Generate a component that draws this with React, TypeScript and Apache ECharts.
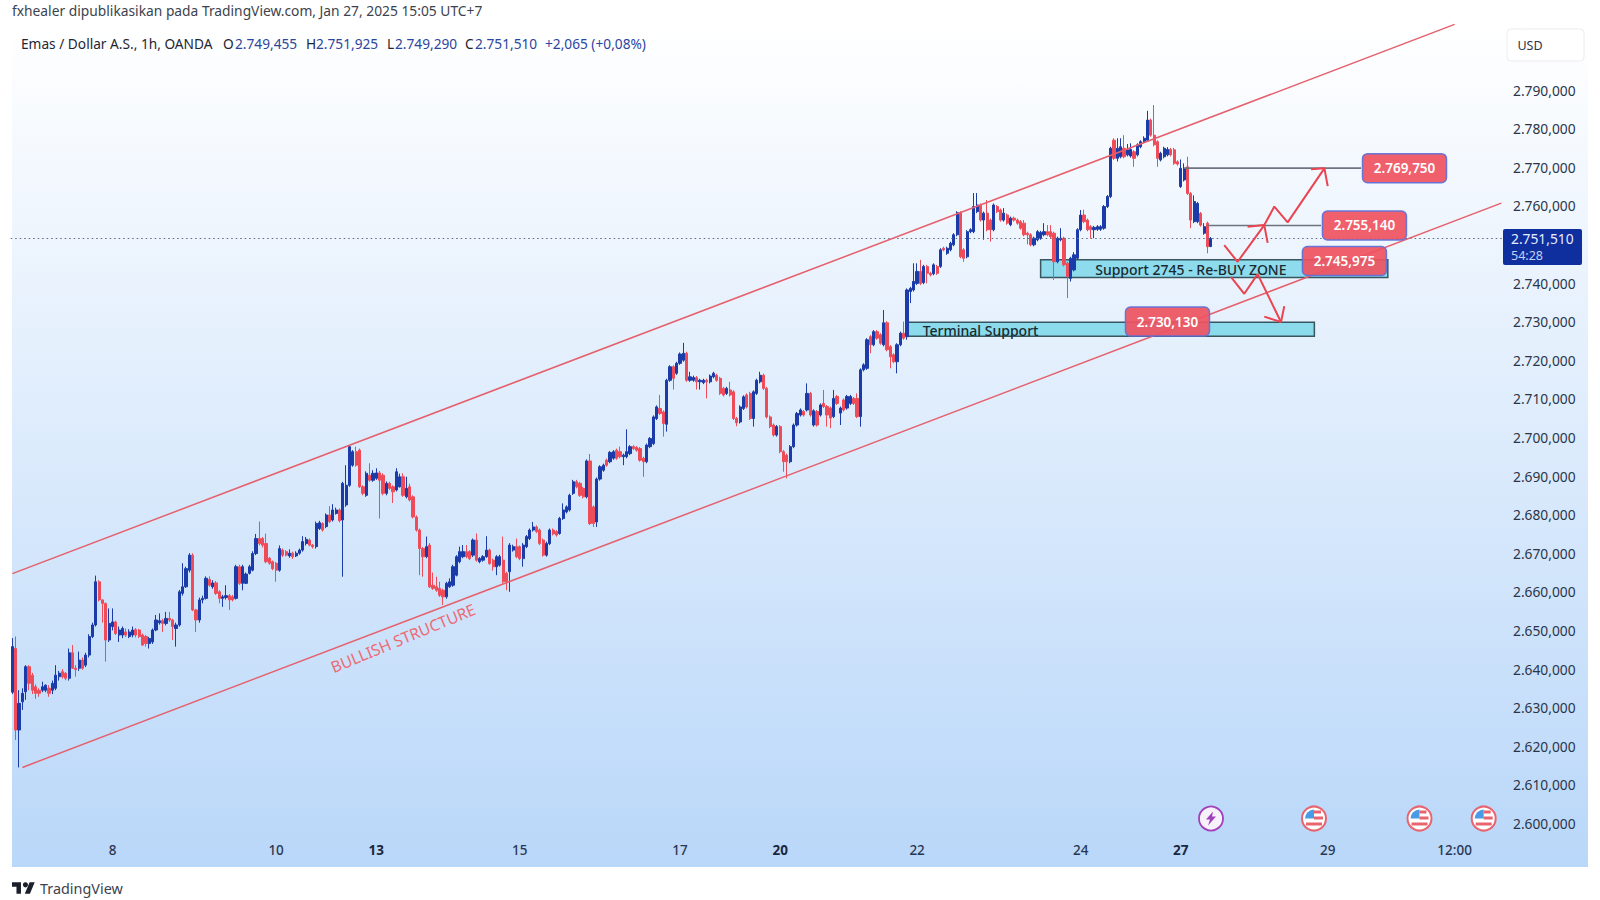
import React, { useEffect, useRef } from "react";
import * as echarts from "echarts";

// Candles: [open, close, low, high]
const candlesJan7to13 = [
[2634,2645.8,2633.5,2648],[2645.3,2624.2,2621.6,2648.4],[2624.2,2631.1,2614.5,2634.5],[2631.5,2633.7,2629.4,2635],[2634.1,2640.6,2632,2641],[2640.6,2636.3,2634.5,2641],[2638.4,2634.5,2633.5,2639],[2635.4,2633.7,2632.3,2636],[2634.5,2633.7,2632.8,2635],[2634.5,2635.4,2634,2636.7],
[2634.5,2635.8,2634,2636],[2635,2633.7,2632.8,2635.8],[2634.5,2636.3,2633.5,2637],[2635,2638.4,2634.5,2641],[2638,2638.9,2637,2639.5],[2639.3,2638,2637.5,2640],[2638.9,2637.6,2637.1,2639.2],[2637.6,2644.2,2637,2645.3],[2644.2,2640.2,2640,2646.2],[2640.2,2639.9,2638,2641],
[2640.2,2642.3,2639.5,2644.5],[2642.3,2640.2,2639.8,2643],[2641,2643.6,2640.5,2644.2],[2643.6,2648.4,2643,2649],[2648.4,2651.4,2648,2652],[2651.4,2662.6,2651,2664.2],[2662.6,2657.9,2657.5,2663],[2657.9,2657,2652,2658],[2657,2647.5,2641.9,2657.2],[2647.5,2651.8,2647,2655.7],
[2651,2652.2,2650,2655.7],[2652.2,2649.2,2648.8,2652.5],[2648.8,2650.1,2647,2651],[2648.8,2650.5,2648,2651],[2649.6,2648.8,2648.3,2650.5],[2648.4,2649.6,2648,2650.3],[2648.8,2650.1,2648.2,2651],[2650.2,2648.8,2648.2,2650.6],[2650.1,2648.4,2648,2650.4],[2648.8,2646.2,2646,2649.2],
[2648.4,2646.6,2645.8,2648.8],[2646.6,2647.9,2645.3,2648.3],[2647,2650.1,2646.5,2650.5],[2650.1,2652.7,2649.8,2654],[2652,2652.5,2651.5,2654.4],[2652.5,2651.8,2649.6,2653],[2651.8,2653.1,2651.3,2654.8],[2653.1,2652.7,2652.2,2654.8],[2652.7,2651,2647.5,2653],[2650.5,2651.4,2645.8,2652],
[2651.4,2660,2651,2660.5],[2659.6,2661.3,2659,2667.4],[2661.3,2666,2661,2666.5],[2665.6,2669.5,2665,2670],[2669.5,2655.3,2655,2670],[2655.3,2652.7,2649.6,2655.6],[2652.7,2657.9,2652,2658.5],[2657.9,2658.3,2657,2659],[2658.3,2663.5,2658,2664],[2663.2,2661.7,2661.3,2664],
[2661.3,2662.3,2660.8,2663],[2662.3,2659.6,2659.2,2662.8],[2660,2658.3,2657,2660.4],[2658.3,2658.7,2656.1,2659.2],[2658.5,2659,2658,2661.7],[2659,2657.9,2655.3,2659.4],[2658.7,2657.9,2657.5,2659.2],[2658.3,2666.5,2658,2667],[2666.5,2662.2,2661.8,2667],[2662.2,2666.5,2660.4,2667],
[2662.2,2664.6,2662,2665],[2664.8,2666.5,2664.5,2667],[2665.6,2669.9,2665.3,2670.5],[2669.9,2673.8,2669.5,2675],[2673.8,2672.5,2672,2678.2],[2673.8,2672.1,2671.5,2674.2],[2672.5,2667.8,2667.4,2675.1],[2668.7,2667.4,2667,2669],[2667.8,2666,2665.6,2668.1],[2667.4,2665.6,2662.6,2667.7],
[2665.6,2671.2,2665.2,2672],[2670.8,2669.5,2669,2671.2],[2670.4,2669.5,2669.2,2670.8],[2669.3,2670,2668.8,2671],[2670,2669.1,2668.5,2670.4],[2669.3,2670,2669,2670.5],[2670,2670.8,2669.6,2671.2],[2670.8,2673,2670.4,2674.4],[2672.5,2673.6,2672,2674.2],[2673.4,2672.1,2671.8,2673.8],
[2672.1,2671.7,2671.2,2672.4],[2671.7,2677.7,2671.2,2678.2],[2676.4,2677.9,2676,2678.4],[2677.7,2676,2675.6,2678],[2676.9,2679.9,2676.5,2680.3],[2679.9,2678.2,2677.8,2682.2],[2678.6,2681.2,2678.2,2682.7],[2680.3,2681.2,2680,2681.8],[2681.2,2678.4,2678,2681.6],[2678.6,2688.1,2663.9,2688.5],
[2682.5,2687.6,2682,2692.8],[2687.6,2697.6,2687.2,2697.8],[2692.8,2696.3,2692.4,2696.7],[2696.3,2692.8,2692.4,2697.6],[2696.7,2687.2,2686.9,2697.1],[2687.2,2685.5,2685,2687.6],[2685,2690.7,2684.6,2691.2],[2690.2,2688.9,2688.5,2693.3],[2688.9,2690.7,2688.5,2691.5],[2689.4,2690.8,2689,2692],
[2690.8,2688.9,2679,2691.3],[2690.2,2685.5,2685,2690.7],[2685.5,2688.1,2685,2688.6],[2688.1,2686.8,2686.4,2688.5],[2687.2,2685.9,2683,2687.6],[2686.4,2691.1,2686,2692],
];
const candlesJan13to20 = [
[2687.2,2689.8,2687,2690.6],[2689.8,2685,2684.6,2690.7],[2684.6,2686.8,2684.2,2689.8],[2687.2,2683.8,2683.4,2688],[2684.6,2679.4,2679,2685],[2679.4,2676,2675.6,2679.8],[2676,2671.2,2664.3,2676.4],[2671.2,2669.1,2663.9,2671.6],[2669.1,2671.7,2668.7,2674.3],[2672.1,2661.3,2661,2672.6],
[2661.7,2660.9,2660.5,2665],[2661.3,2660.4,2660,2663.9],[2660.9,2659.1,2658.7,2662.6],[2660.4,2658.7,2656.6,2660.8],[2658.7,2662.2,2658.2,2662.6],[2661.3,2662.6,2661,2663.5],[2661.7,2666.5,2661.3,2667],[2664.3,2669.1,2664,2669.5],[2667.8,2670.4,2667.4,2671.7],[2669.1,2670.4,2668.7,2672.1],
[2670.4,2669.1,2668.7,2672.1],[2670.4,2668.6,2668.2,2670.8],[2669.5,2673.4,2669,2673.8],[2673.4,2668.2,2667.8,2675.1],[2667.8,2668.6,2667.4,2669],[2668.2,2669.1,2667.8,2669.5],[2669.1,2670.8,2668.8,2674.4],[2670.8,2667.3,2667,2671.2],[2668.2,2666.5,2665.5,2668.6],[2666.5,2669.1,2664.3,2669.5],
[2666.9,2669.1,2666.5,2669.6],[2668.2,2662.6,2662.2,2674.3],[2664.8,2662.6,2660.4,2665.2],[2665.2,2672.1,2660,2672.6],[2670.8,2671.7,2670.4,2672.2],[2671.7,2669.1,2668.7,2673.8],[2671.7,2668.6,2668.2,2672],[2668.6,2672.1,2666.5,2672.6],[2671.7,2674.3,2671.3,2674.7],[2673.8,2676,2673.4,2676.4],
[2676,2676.8,2675.6,2678.1],[2676.8,2675.6,2675.2,2677.2],[2676,2672.5,2672.1,2676.4],[2673.4,2669.5,2669.1,2673.8],[2669.5,2672.5,2669.1,2673],[2672.5,2676,2672.1,2676.4],[2676,2675,2674.6,2676.4],[2675.6,2674.7,2674.3,2676],[2675.1,2679,2674.8,2679.4],[2679,2681.2,2678.6,2682.9],
[2680.7,2682,2680.3,2682.4],[2681.2,2685,2680.8,2685.4],[2685.5,2688.5,2685.1,2689],[2688.5,2687.2,2686.8,2689],[2688.1,2685,2684.6,2688.5],[2686.8,2684.6,2684.2,2687.2],[2684.6,2693.9,2684.2,2694.3],[2693.9,2677.7,2677.3,2695.7],[2682,2677.7,2676.8,2682.4],[2678.1,2689.2,2676.8,2689.6],
[2689.2,2692.4,2688.8,2692.8],[2691.5,2692.8,2691.1,2693.2],[2694.1,2692.8,2692.4,2694.5],[2693.7,2696.1,2693.3,2696.5],[2694.6,2696.3,2694.2,2696.7],[2696.7,2694.6,2694.2,2697.1],[2696.3,2695,2694.6,2697.6],[2695,2695.4,2692.8,2695.8],[2695,2696.3,2694.6,2702.1],[2695.8,2697.6,2695.4,2698],
[2697.6,2697.1,2696.7,2698],[2697.4,2696.7,2696.3,2697.8],[2697.1,2694.1,2693.7,2697.5],[2694.6,2693.7,2689.8,2695],[2693.7,2698,2693.3,2698.4],[2697.6,2699.7,2697.2,2700.1],[2698.4,2705.3,2698,2705.7],[2704.9,2707.9,2704.5,2708.3],[2707.5,2706.2,2705.8,2711],[2706.6,2703.6,2700.2,2707],
[2703.4,2714.8,2701.5,2715.2],[2714.8,2718.3,2714.4,2718.7],[2718.3,2715.3,2712.4,2718.7],[2716.6,2719.2,2716.2,2719.6],[2719.2,2721.6,2718.8,2722],[2720,2721.8,2719.6,2724.5],[2721.8,2714.8,2714.4,2722.2],[2714.8,2715.7,2714.4,2717],[2714.8,2715.5,2714.4,2716],[2715.5,2714.4,2712.4,2715.9],
[2714.4,2714.8,2712.4,2715.2],[2714.2,2714.8,2713.8,2715.2],[2714.8,2714.4,2710.1,2715.2],[2714.4,2715.9,2714,2716.3],[2715.7,2716.6,2715.3,2717],[2716.1,2714.8,2714.4,2716.5],[2715.3,2711.4,2711,2715.7],[2712.7,2711,2710.6,2713.1],[2711.4,2712.7,2711,2713.1],[2712.3,2711,2710.6,2714.4],
[2711.8,2704.9,2704.5,2712.2],[2704.9,2703.8,2702.9,2705.3],[2704,2707.9,2703.6,2708.3],[2707.5,2710.5,2707.1,2710.9],[2711,2707.9,2707.5,2711.4],[2711.4,2704.9,2704.5,2711.8],[2704.9,2711.8,2702.8,2712.2],[2711.4,2714.8,2711,2715.2],[2714.4,2716.1,2714,2717],[2716.1,2712.7,2712.3,2716.5],
[2712.7,2705.3,2704.9,2713.1],[2705.3,2702.8,2702.4,2705.7],[2703.2,2700.6,2700.2,2703.6],[2700.6,2702.8,2700.2,2703.2],[2702.8,2696.3,2695.9,2703.2],[2696.3,2693.7,2691.1,2696.7],[2695.4,2693.7,2689.4,2695.8],[2693.7,2697.6,2693.3,2698],[2697.6,2703.2,2697.2,2703.6],[2703.2,2706.2,2702.8,2706.6],
];
const candlesJan20to24 = [
[2705.8,2707.1,2705.4,2707.5],[2706.7,2705.8,2705.4,2707.1],[2707.1,2711.4,2706.7,2714],[2711.4,2705.8,2705.4,2711.8],[2703.2,2706.9,2702.8,2707.3],[2706.7,2703.2,2702.8,2707.1],[2705.8,2708.4,2705.4,2708.8],[2708.8,2708,2707.6,2712.3],[2708,2705.8,2702.8,2708.4],[2707.6,2705,2702.4,2708],
[2705.4,2710.1,2705,2712.3],[2710.6,2708.8,2708.4,2711],[2706.3,2707.6,2703.2,2708],[2709.7,2707.1,2706.7,2710.1],[2707.6,2710.6,2707.2,2711],[2708.8,2710.6,2708.4,2711],[2710.1,2708.8,2708.4,2710.5],[2710.1,2705.4,2705,2711.4],[2705.4,2717.5,2702.8,2717.9],[2717.5,2718.8,2717.1,2719.2],
[2717.9,2725.3,2717.5,2725.7],[2726.1,2724,2721.8,2726.5],[2724,2727.4,2723.6,2727.8],[2727.4,2725.7,2725.3,2727.8],[2726.6,2724.4,2724,2727],[2724,2729.7,2723.6,2733],[2729.7,2722.7,2722.3,2730.1],[2723.5,2720.9,2717.9,2723.9],[2721.4,2719.6,2719.2,2721.8],[2719.6,2724,2716.6,2724.4],
[2724,2727,2723.6,2727.4],[2727,2725.7,2725.3,2730],[2726.1,2738.2,2725.3,2738.6],[2737.8,2738.6,2734.8,2739],[2738.2,2740.4,2737.8,2745.1],[2739.9,2743,2739.5,2745.1],[2743,2739.9,2739.5,2746],[2740.1,2744.3,2739.7,2744.7],[2744.3,2742.5,2739.9,2744.7],[2742.5,2742.1,2741.7,2742.9],
[2742.4,2744.7,2742,2745.1],[2744.3,2742.5,2742.1,2744.7],[2744.3,2748.6,2743.9,2749],[2749,2748.6,2748.2,2749.4],[2747.7,2749,2747.3,2749.4],[2748.6,2750.3,2748.2,2750.7],[2749.9,2752.5,2749.5,2752.9],[2752.5,2758.2,2752.1,2758.6],[2758.2,2746.8,2746.4,2758.6],[2748.6,2746.4,2745.5,2749],
[2746.8,2753.3,2746.4,2753.7],[2753.3,2753.8,2752.9,2754.2],[2753.3,2759.8,2752.9,2763.3],[2758.5,2760.2,2758.1,2763.3],[2760.2,2756.3,2755.9,2760.6],[2756.3,2758.1,2751.2,2758.5],[2758.1,2753.8,2753.4,2761.5],[2756.3,2753.8,2750.7,2756.7],[2753.8,2760.2,2753.4,2760.6],[2759.8,2758.5,2758.1,2760.2],
[2758.9,2756.3,2755.9,2759.3],[2756.3,2758.1,2755.9,2759.4],[2757.6,2755.5,2755.1,2758],[2755.1,2756.8,2754.7,2757.2],[2756.8,2756.3,2755.9,2757.2],[2756.3,2755.5,2755.1,2756.7],[2755.9,2754.2,2753.8,2756.3],[2755.5,2752.5,2752.1,2756.3],[2752.9,2752.5,2750,2753.3],[2752.5,2749.9,2749.5,2752.9],
[2749.9,2751.6,2749.5,2752],[2751.2,2753.3,2750.8,2753.7],[2751.6,2753.1,2751.2,2753.5],[2752.5,2753.3,2752.1,2755.5],[2753.3,2752.5,2752.1,2755],[2753.3,2752,2751.6,2755],[2752.9,2745.5,2740.8,2753.3],[2745.5,2751.6,2745.1,2752],[2751.2,2751.6,2750.8,2754.2],[2751.6,2744.7,2744.3,2752],
[2745.1,2741.7,2736.1,2745.5],[2741.2,2746.4,2740.4,2746.8],[2743.4,2747.3,2743,2748],[2746.4,2753.8,2746,2754.2],[2753.8,2757.6,2753.4,2758.9],[2757.6,2755.9,2755.5,2759],[2756.3,2753.8,2753.4,2756.7],[2754.6,2753.8,2751.5,2755],[2753.8,2754.4,2751.6,2754.8],[2753.9,2754.6,2753.5,2755],
];
const candlesJan24to27 = [
[2753.9,2754.6,2753.5,2755],[2754.2,2759.8,2753.8,2760.2],[2759.8,2762.4,2759.4,2762.8],[2762.4,2774.9,2762,2775.3],[2777,2772.3,2771.9,2777.5],[2772.3,2774.9,2771.5,2777.5],[2772.7,2775.3,2772.3,2777.5],[2774.9,2772.7,2772.3,2778.3],[2773.2,2774.5,2772.8,2776],[2772.9,2774.6,2772.5,2776.2],
[2774,2772.3,2770.1,2774.4],[2773.2,2775.8,2772.8,2776.2],[2775.3,2776.6,2774.9,2777],[2776.6,2777.5,2776.2,2778],[2777,2782.2,2776.6,2784.6],[2782.2,2778.3,2777.9,2782.6],[2778.3,2775.8,2775.4,2786.1],[2776.6,2772.3,2770.1,2777],[2771.9,2773.6,2771.5,2774],[2772.7,2774.9,2772.3,2775.3],
[2773.2,2774.6,2772.8,2775.2],[2774.6,2773.2,2772.8,2775],[2774.5,2771,2770.6,2775],[2771.4,2770.8,2770.4,2771.8],[2765,2769.7,2764.6,2772],[2766.7,2769.7,2766.3,2771],[2770.1,2763.2,2762.8,2772.7],[2763.2,2756.3,2754.2,2763.6],[2755.9,2761.1,2755.5,2762.7],[2755.9,2760.6,2755.5,2761],
[2758,2755,2754.6,2758.4],[2752.9,2754.6,2752.5,2755.5],[2755.5,2749.4,2747.7,2755.9],[2749.455,2751.51,2749.29,2751.925],
];
const candles = [...candlesJan7to13, ...candlesJan13to20, ...candlesJan20to24, ...candlesJan24to27];

const slotCount = 447;
const xTickBars = [30, 79, 109, 152, 200, 230, 271, 320, 350, 394, 432];
const xTickLabels = ["8", "10", "13", "15", "17", "20", "22", "24", "27", "29", "12:00"];
const xTickBold = ["13", "20", "27"];
const lastPrice = 2751.51;
const priceTicksHiddenByBadge = [2750];

const channelUpper = [[0, 2664.7], [432, 2807]];
const channelLower = [[3, 2614.5], [446, 2760.7]];
const levelTop = [[351, 2769.75], [404, 2769.75]];
const levelMid = [[358, 2754.9], [392, 2754.9]];
const arrowUpPath = [[363, 2749.8], [367, 2745.5], [375, 2755], [378, 2759.8], [382, 2755.7], [393, 2769.7]];
const arrowUpBarbA = [[370, 2754.6], [375, 2755], [376, 2750.4]];
const arrowUpBarbB = [[389, 2769.5], [393, 2769.7], [394, 2765.1]];
const arrowDownPath = [[365, 2741.6], [369, 2737.2], [373, 2742.3], [380, 2729.9]];
const arrowDownBarb = [[375, 2731.3], [380, 2729.9], [381, 2734]];

const zoneStart = [308, 268];
const zoneEnd = [412, 390];
const zoneTop = [2746, 2729.8];
const zoneBottom = [2741.4, 2726.2];
const zoneLabels = ["Support 2745 - Re-BUY ZONE", "Terminal Support"];
const zoneLabelBars = [353, 290];
const zoneLabelPrices = [2743.5, 2727.7];

const badgeLabels = ["2.769,750", "2.755,140", "2.745,975", "2.730,130"];
const badgeBars = [417, 405, 399, 346];
const badgePrices = [2769.75, 2754.9, 2745.7, 2730];

const structureLabel = "BULLISH STRUCTURE";
const structureBar = 117;
const structurePrice = 2648;

const FONT = '"Noto Sans"';
const RED = "#e5606c";

const formatPrice = (v: number) => `${Math.floor(v / 1000)}.${String(v % 1000).padStart(3, "0")},000`;

function flag(cx: number, cy: number) {
  return {
    type: "group", x: cx, y: cy, z: 20, silent: true,
    children: [
      { type: "circle", shape: { r: 12 }, style: { fill: "#fff", stroke: "#e8646e", lineWidth: 2 } },
      { type: "sector", shape: { r: 9, r0: 0, startAngle: Math.PI, endAngle: Math.PI * 1.5 }, style: { fill: "#4a9be6" } },
      { type: "rect", shape: { x: 0, y: -8, width: 7, height: 3 }, style: { fill: "#e8646e" } },
      { type: "rect", shape: { x: 0, y: -2, width: 9, height: 3 }, style: { fill: "#e8646e" } },
      { type: "rect", shape: { x: -8, y: 4, width: 16, height: 3 }, style: { fill: "#e8646e" } },
    ],
  };
}

export default function App() {
  const ref = useRef<HTMLDivElement>(null);
  useEffect(() => {
    const chart = echarts.init(ref.current!, undefined, { renderer: "svg" });
    const lineSeries = (data: number[][], color: string, width: number, z = 5) => ({
      type: "line", data, showSymbol: false, symbol: "none", silent: true, z,
      lineStyle: { color, width }, itemStyle: { color }, clip: false, animation: false,
    });
    const legendText = (text: string, x: number, fill: string) => ({
      type: "text", x, y: 43, z: 20, silent: true,
      style: { text, fill, font: `13.7px ${FONT}`, verticalAlign: "middle" },
    });
    chart.setOption({
      animation: false,
      backgroundColor: "#ffffff",
      grid: { left: 10.7, top: 12.8, width: 1492.3, height: 849.2, containLabel: false },
      xAxis: {
        type: "category",
        data: Array.from({ length: slotCount }, (_, i) => String(i)),
        boundaryGap: true,
        axisLine: { show: false },
        axisTick: { show: false },
        splitLine: { show: false },
        axisLabel: {
          inside: true,
          margin: 5,
          interval: (i: number) => xTickBars.includes(i),
          formatter: (_: string, i: number) => {
            const k = xTickBars.indexOf(i);
            if (k < 0) return "";
            const t = xTickLabels[k];
            return xTickBold.includes(t) ? `{b|${t}}` : `{n|${t}}`;
          },
          rich: {
            b: { fontFamily: FONT, fontSize: 13.5, fontWeight: 700, color: "#1c2740" },
            n: { fontFamily: FONT, fontSize: 13.5, fontWeight: 500, color: "#2a3650" },
          },
        },
      },
      yAxis: {
        type: "value",
        position: "right",
        min: 2590,
        max: 2810,
        interval: 10,
        splitLine: { show: false },
        axisLine: { show: false },
        axisTick: { show: false },
        axisLabel: {
          margin: 10,
          fontFamily: FONT,
          fontSize: 13.8,
          color: "#2b3548",
          formatter: (v: number) => (v < 2600 || v > 2790 || priceTicksHiddenByBadge.includes(v) ? "" : formatPrice(v)),
        },
      },
      series: [
        {
          type: "custom", z: 1, silent: true, clip: false,
          data: zoneStart.map((s, i) => [s, zoneTop[i]]),
          renderItem: (p: any, api: any) => {
            const i = p.dataIndex;
            const a = api.coord([zoneStart[i], zoneTop[i]]);
            const b = api.coord([zoneEnd[i], zoneBottom[i]]);
            return { type: "rect", shape: { x: a[0], y: a[1], width: b[0] - a[0], height: b[1] - a[1] },
              style: { fill: "#84d9ec", stroke: "#2c4a52", lineWidth: 1.5, opacity: 0.92 } };
          },
        },
        {
          type: "candlestick", z: 2, silent: true, barWidth: 2.7,
          data: candles,
          itemStyle: { color: "#1b3ca8", color0: "#ee4c58", borderColor: "#1b3ca8", borderColor0: "#ee4c58", borderWidth: 1 },
          markLine: {
            silent: true, symbol: "none", animation: false, label: { show: false },
            lineStyle: { color: "#5b6a8a", type: [1.5, 3], width: 1 },
            data: [{ yAxis: lastPrice }],
          },
        },
        lineSeries(channelUpper, RED, 1.5),
        lineSeries(channelLower, RED, 1.5),
        lineSeries(levelTop, "#6d7480", 1.6),
        lineSeries(levelMid, "#6d7480", 1.6),
        {
          type: "custom", z: 6, silent: true, clip: false,
          data: zoneLabels.map((_, i) => [zoneLabelBars[i], zoneLabelPrices[i]]),
          renderItem: (p: any, api: any) => {
            const i = p.dataIndex;
            const c = api.coord([zoneLabelBars[i], zoneLabelPrices[i]]);
            return { type: "text", x: c[0], y: c[1],
              style: { text: zoneLabels[i], fill: "#1a2a30", font: `500 14px ${FONT}`, align: "center", verticalAlign: "middle" } };
          },
        },
        {
          type: "custom", z: 7, silent: true, clip: false,
          data: badgeLabels.map((_, i) => [badgeBars[i], badgePrices[i]]),
          renderItem: (p: any, api: any) => {
            const i = p.dataIndex;
            const c = api.coord([badgeBars[i], badgePrices[i]]);
            return {
              type: "group", x: c[0], y: c[1],
              children: [
                { type: "rect", shape: { x: -42, y: -14.5, width: 84, height: 29, r: 5 },
                  style: { fill: "#ef5360", stroke: "#5f70d8", lineWidth: 1.5, opacity: 0.92 } },
                { type: "text", x: 0, y: 0,
                  style: { text: badgeLabels[i], fill: "#ffffff", font: `600 13.5px ${FONT}`, align: "center", verticalAlign: "middle" } },
              ],
            };
          },
        },
        {
          type: "custom", z: 6, silent: true, clip: false,
          data: [[structureBar, structurePrice]],
          renderItem: (_: any, api: any) => {
            const c = api.coord([structureBar, structurePrice]);
            return { type: "text", x: c[0], y: c[1], rotation: (22.5 * Math.PI) / 180,
              style: { text: structureLabel, fill: "#ec6b75", font: `15.7px ${FONT}`, align: "center", verticalAlign: "middle" } };
          },
        },
        lineSeries(arrowUpPath, "#ea4450", 2, 8),
        lineSeries(arrowUpBarbA, "#ea4450", 2, 8),
        lineSeries(arrowUpBarbB, "#ea4450", 2, 8),
        lineSeries(arrowDownPath, "#ea4450", 2, 8),
        lineSeries(arrowDownBarb, "#ea4450", 2, 8),
      ],
      graphic: [
        { type: "rect", z: -5, silent: true, shape: { x: 12, y: 24.5, width: 1576, height: 842.5 },
          style: { fill: new echarts.graphic.LinearGradient(0, 0, 0, 1, [{ offset: 0, color: "#ffffff" }, { offset: 1, color: "#b9d7f9" }]) } },
        { type: "text", x: 12, y: 10.5, z: 20, silent: true,
          style: { text: "fxhealer dipublikasikan pada TradingView.com, Jan 27, 2025 15:05 UTC+7", fill: "#3c434d", font: `13.8px ${FONT}`, verticalAlign: "middle" } },
        legendText("Emas / Dollar A.S., 1h, OANDA", 21, "#1f2633"),
        legendText("O", 223, "#1f2633"), legendText("2.749,455", 235, "#2b45a0"),
        legendText("H", 306, "#1f2633"), legendText("2.751,925", 316, "#2b45a0"),
        legendText("L", 387, "#1f2633"), legendText("2.749,290", 395, "#2b45a0"),
        legendText("C", 465, "#1f2633"), legendText("2.751,510", 475, "#2b45a0"),
        legendText("+2,065 (+0,08%)", 545, "#2b45a0"),
        { type: "rect", z: 19, silent: true, shape: { x: 1507, y: 29, width: 77, height: 32, r: 4 },
          style: { fill: "#ffffff", stroke: "#ececf0", lineWidth: 1 } },
        { type: "text", x: 1530, y: 45, z: 20, silent: true,
          style: { text: "USD", fill: "#2b3548", font: `12.5px ${FONT}`, align: "center", verticalAlign: "middle" } },
        { type: "rect", z: 19, silent: true, shape: { x: 1503, y: 229, width: 79, height: 36, r: 2 }, style: { fill: "#0f2f9f" } },
        { type: "text", x: 1511, y: 238, z: 20, silent: true,
          style: { text: "2.751,510", fill: "#e6ecff", font: `13.8px ${FONT}`, verticalAlign: "middle" } },
        { type: "text", x: 1511, y: 255.5, z: 20, silent: true,
          style: { text: "54:28", fill: "#c5d0f2", font: `12.5px ${FONT}`, verticalAlign: "middle" } },
        {
          type: "group", x: 1211, y: 818.5, z: 20, silent: true,
          children: [
            { type: "circle", shape: { r: 12 }, style: { fill: "#f6f1fb", stroke: "#a23fba", lineWidth: 1.8 } },
            { type: "polygon", shape: { points: [[2, -7], [-5, 1], [-1, 1], [-3, 7], [5, -2], [1, -2]] }, style: { fill: "#a23fba" } },
          ],
        },
        flag(1314, 818.5), flag(1419.5, 818.5), flag(1483.7, 818.5),
        {
          type: "group", x: 12, y: 881, z: 20, silent: true, scaleX: 0.64, scaleY: 0.64,
          children: [
            { type: "polygon", shape: { points: [[0, 2], [14, 2], [14, 20], [7, 20], [7, 9], [0, 9]] }, style: { fill: "#1b1f2a" } },
            { type: "circle", shape: { cx: 21, cy: 6, r: 4 }, style: { fill: "#1b1f2a" } },
            { type: "polygon", shape: { points: [[27.5, 2], [35.5, 2], [28, 20], [20, 20]] }, style: { fill: "#1b1f2a" } },
          ],
        },
        { type: "text", x: 40, y: 888, z: 20, silent: true,
          style: { text: "TradingView", fill: "#3c434d", font: `14.4px ${FONT}`, verticalAlign: "middle" } },
      ],
    });
    return () => chart.dispose();
  }, []);
  return <div ref={ref} style={{ position: "fixed", left: 0, top: 0, width: 1600, height: 900, background: "#fff" }} />;
}
